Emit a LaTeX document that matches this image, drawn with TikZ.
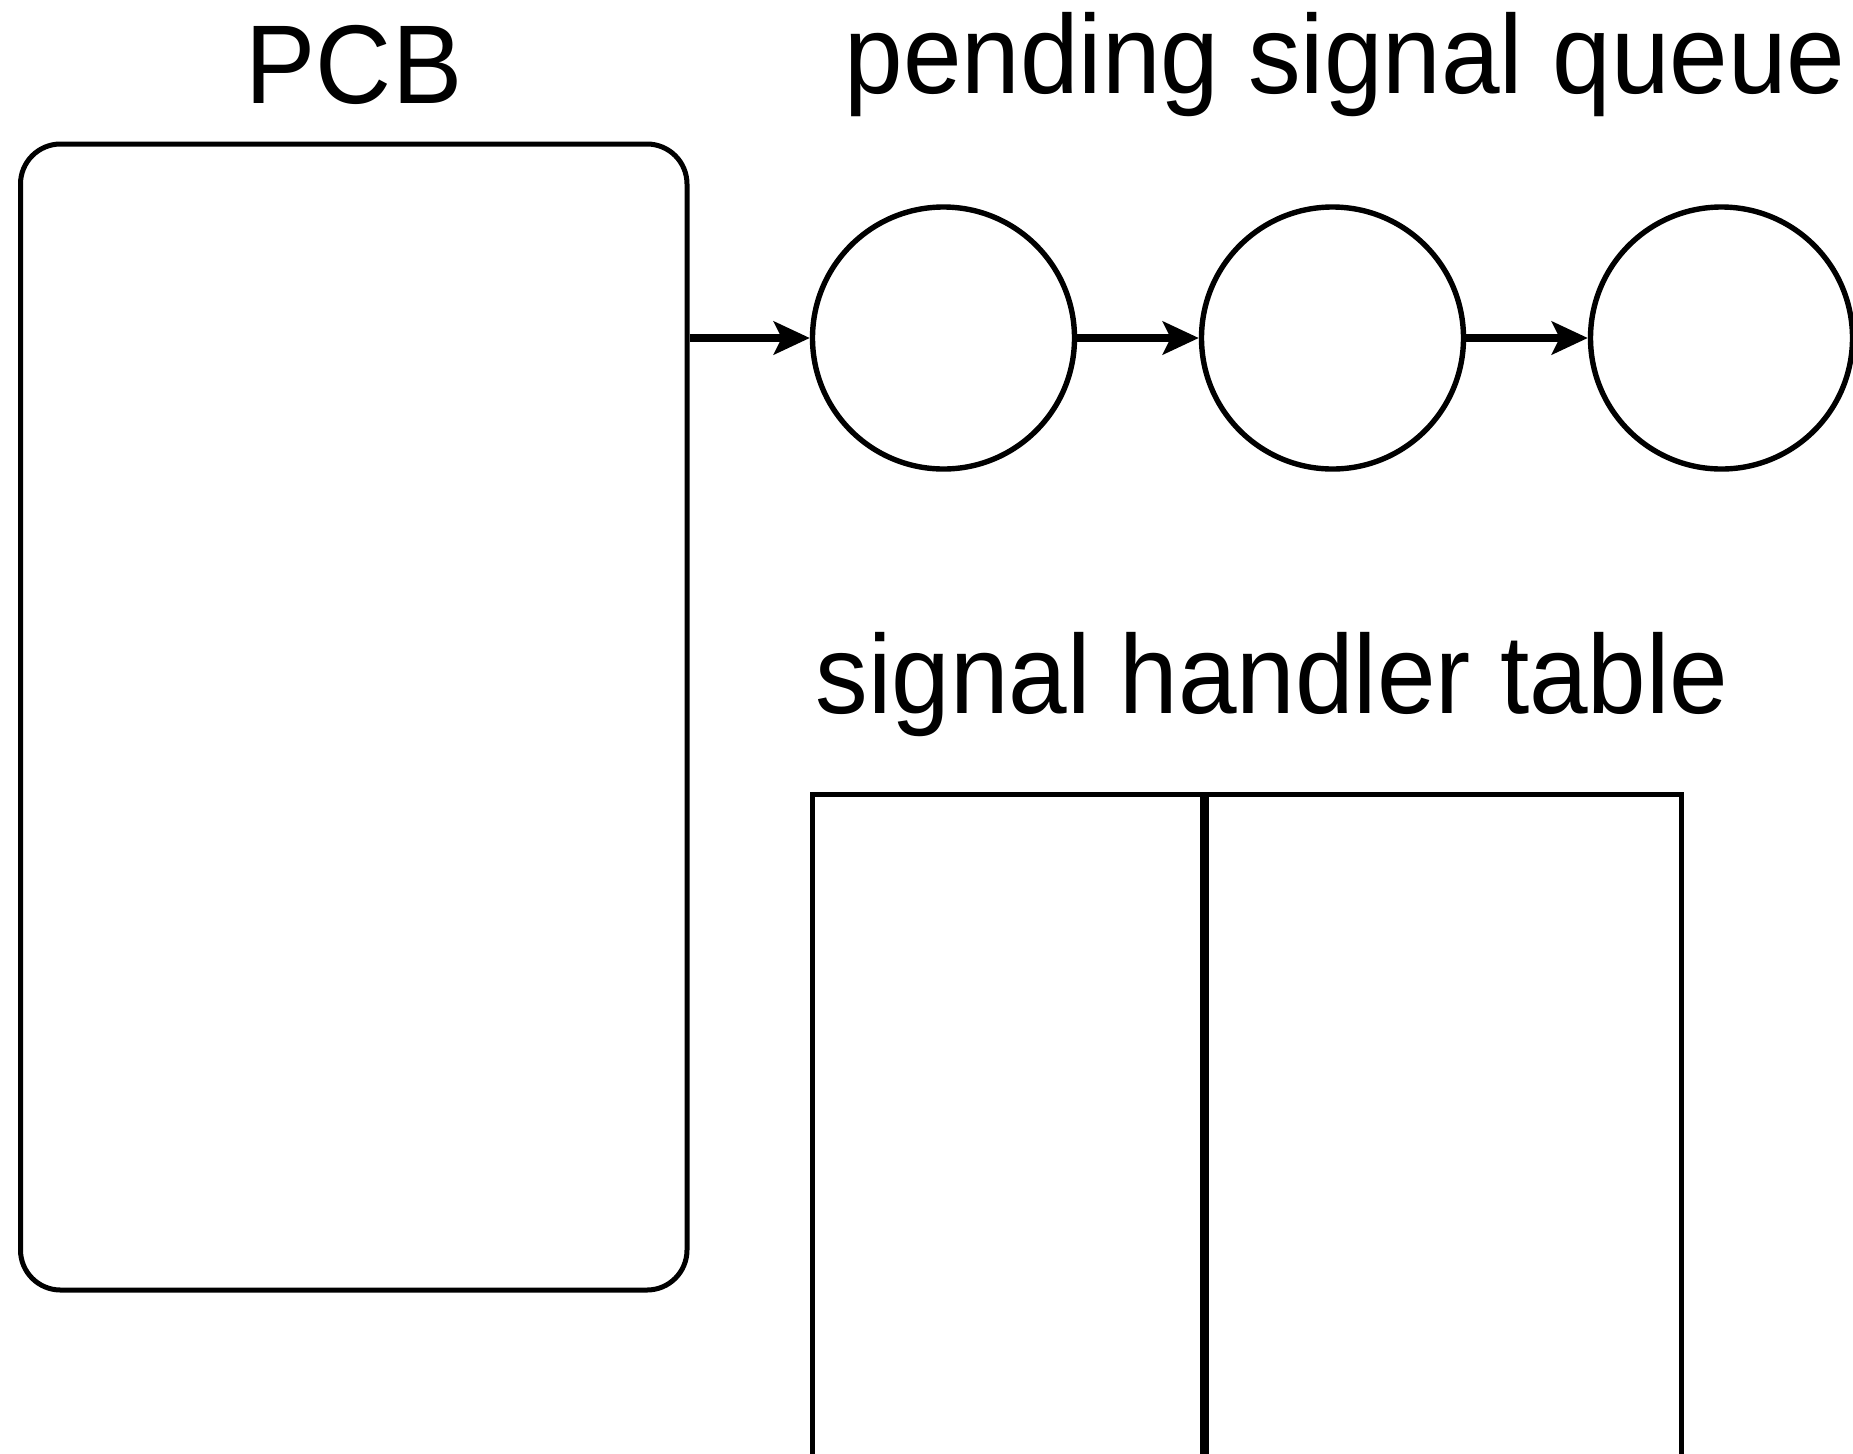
\documentclass[tikz,border=0pt]{standalone}
\usepackage{fontspec}
\setmainfont{Liberation Sans}[FakeStretch=0.94]
\usetikzlibrary{arrows.meta}
\begin{document}
\begin{tikzpicture}[x=0.5pt,y=-0.5pt,line width=2.5pt,
  lbl/.style={font=\fontsize{56}{60}\selectfont,inner sep=0pt,anchor=base},
  pcbbox/.style={draw,line width=2.5pt,rounded corners=20pt,minimum width=333.25pt,minimum height=573pt,inner sep=0pt},
  qnode/.style={draw,line width=2.7pt,circle,minimum size=131pt,inner sep=0pt},
  tcell/.style={draw,line width=2.4pt,anchor=north west,inner sep=0pt,minimum height=354pt},
  link/.style={line width=4pt,-{Stealth[length=18pt,width=16.5pt,inset=4pt]}}
]
\useasboundingbox (0,0) rectangle (1853,1453);
\clip (0,0) rectangle (1853,1453);
\node[lbl] (pcbtitle) at (354,103.3) {PCB};
\node[lbl] (qtitle) at (1345,93.3) {pending signal queue};
\node[lbl] (ttitle) at (1272,713) {signal handler table};
\node[pcbbox] (pcb) at (353.75,717) {};
\node[qnode] (q1) at (943.5,338) {};
\node[qnode] (q2) at (1332.5,338) {};
\node[qnode] (q3) at (1721.5,338) {};
\draw[link] (q1.west -| pcb.east) -- (q1.west);
\draw[link] (q1.east) -- (q2.west);
\draw[link] (q2.east) -- (q3.west);
\node[tcell,minimum width=195pt] (c1) at (810,792) {};
\node[tcell,minimum width=239.5pt] (c2) at (1200,792) {};
\draw[line width=3.7pt] (c1.north east) -- (c1.south east);
\end{tikzpicture}
\end{document}
